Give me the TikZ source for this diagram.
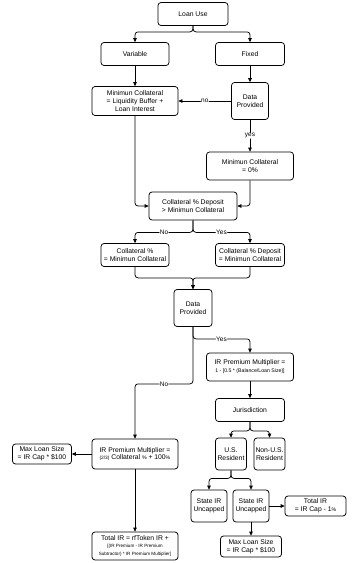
\documentclass[tikz,border=0pt]{standalone}
\usepackage{fontspec}
\setmainfont{Liberation Sans}
\usetikzlibrary{arrows.meta}
\begin{document}
\begin{tikzpicture}[x=1pt,y=-1pt,
  box/.style={draw, rounded corners=3pt, align=center, inner sep=0pt, line width=0.75pt,
    font=\fontsize{6.8}{7.9}\selectfont, fill=white},
  edge/.style={draw, line width=0.75pt, rounded corners=3pt, -{Triangle[length=4pt,width=3.6pt]}},
  lbl/.style={fill=white, inner sep=0.5pt, font=\fontsize{6.5}{7.5}\selectfont},
  sm/.style={font=\fontsize{4.6}{5.5}\selectfont}]
\useasboundingbox (0,0) rectangle (357,563);
% nodes
\node[box, minimum width=70pt, minimum height=23pt] (lu) at (193,14) {Loan Use};
\node[box, minimum width=68pt, minimum height=23pt] (var) at (135,54) {Variable};
\node[box, minimum width=69pt, minimum height=23pt] (fix) at (250,54) {Fixed};
\node[box, minimum width=86pt, minimum height=29pt] (mcl) at (135,101) {Minimun Collateral\\= Liquidity Buffer +\\Loan Interest};
\node[box, minimum width=37pt, minimum height=37pt] (dp1) at (250,101) {Data\\Provided};
\node[box, minimum width=87pt, minimum height=28pt] (mc0) at (250,166) {Minimun Collateral\\= 0\%};
\node[box, minimum width=88pt, minimum height=28pt] (cdep) at (193,206) {Collateral \% Deposit\\> Minimun Collateral};
\node[box, minimum width=68pt, minimum height=23pt] (cl) at (135,255) {Collateral \%\\= Minimun Collateral};
\node[box, minimum width=69pt, minimum height=23pt] (cr) at (250,255) {Collateral \% Deposit\\= Minimun Collateral};
\node[box, minimum width=38pt, minimum height=37pt] (dp2) at (193,308) {Data\\Provided};
\node[box, minimum width=87pt, minimum height=28pt] (irr) at (250,367) {IR Premium Multiplier =\\{\fontsize{5.2}{6}\selectfont 1 - [0.5 * (Balance/Loan Size)]}};
\node[box, minimum width=69pt, minimum height=23pt] (jur) at (250,410) {Jurisdiction};
\node[box, minimum width=31pt, minimum height=32pt] (us) at (231,454) {U.S.\\Resident};
\node[box, minimum width=31pt, minimum height=32pt] (nus) at (269.5,454) {Non-U.S.\\Resident};
\node[box, minimum width=86pt, minimum height=30pt] (irl) at (135,454) {IR Premium Multiplier =\\{\fontsize{4.8}{6}\selectfont (2/3)} Collateral {\fontsize{5.2}{6}\selectfont\%} + 100{\fontsize{5.2}{6}\selectfont\%}};
\node[box, minimum width=59pt, minimum height=20pt] (mll) at (42,454) {Max Loan Size\\= IR Cap * \$100};
\node[box, minimum width=36pt, minimum height=32pt] (s1) at (209,506) {State IR\\Uncapped};
\node[box, minimum width=36pt, minimum height=32pt] (s2) at (251,506) {State IR\\Uncapped};
\node[box, minimum width=61pt, minimum height=20pt] (tir) at (315.5,506) {Total IR\\= IR Cap - 1{\fontsize{5.2}{6}\selectfont\%}};
\node[box, minimum width=61pt, minimum height=21pt] (mlr) at (251,546.5) {Max Loan Size\\= IR Cap * \$100};
\node[box, minimum width=86pt, minimum height=28pt] (til) at (135,546) {Total IR = rfToken IR +\\{\fontsize{4.6}{5.6}\selectfont [(IR Premium - IR Premium}\\{\fontsize{4.6}{5.6}\selectfont Subtractor) * IR Premium Multiplier]}};
% edges
\draw[edge] (lu.south) -- ++(0,6) -| (var.north);
\draw[edge] (lu.south) -- ++(0,6) -| (fix.north);
\draw[edge] (var) -- (mcl);
\draw[edge, line width=1pt] (fix) -- (dp1);
\draw[edge] (dp1) -- node[lbl] {no} (mcl);
\draw[edge] (dp1) -- node[lbl] {yes} (mc0);
\draw[edge] (mcl.south) |- (cdep.west);
\draw[edge] (mc0.south) |- (cdep.east);
\draw[edge] (cdep.south) -- ++(0,12) -| node[lbl, pos=0.25] {No} (cl.north);
\draw[edge] (cdep.south) -- ++(0,12) -| node[lbl, pos=0.25] {Yes} (cr.north);
\draw[edge] (cl.south) -- ++(0,11) -| (dp2.north);
\draw[edge] (cr.south) -- ++(0,11) -| (dp2.north);
\draw[edge] (dp2.south) -- ++(0,12) -| node[lbl, pos=0.25] {Yes} (irr.north);
\draw[edge] (dp2.south) -- ++(0,57) -| node[lbl, pos=0.25] {No} (irl.north);
\draw[edge] (irr) -- (jur);
\draw[edge] (jur.south) -- ++(0,9) -| (us.north);
\draw[edge] (jur.south) -- ++(0,9) -| (nus.north);
\draw[edge] (us.south) -- ++(0,8) -| (s1.north);
\draw[edge] (us.south) -- ++(0,8) -| (s2.north);
\draw[edge, line width=1pt] (s2) -- (tir);
\draw[edge] (s2) -- (mlr);
\draw[edge] (irl) -- (mll);
\draw[edge] (irl) -- (til);
\end{tikzpicture}
\end{document}
